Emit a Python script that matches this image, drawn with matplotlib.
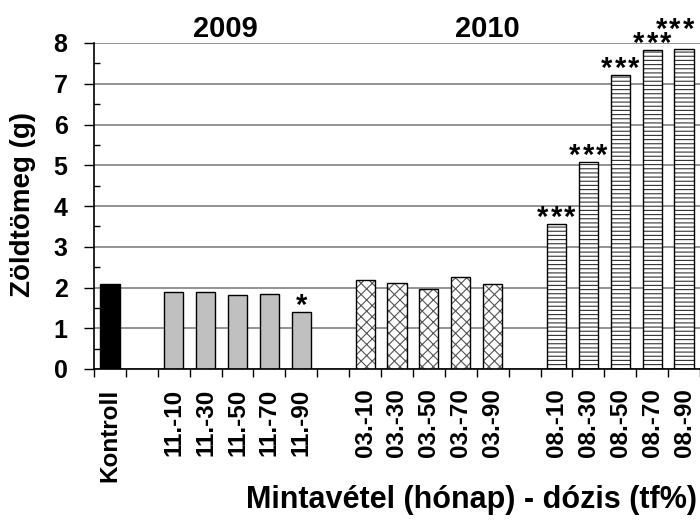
import numpy as np
import matplotlib
matplotlib.use("Agg")
from matplotlib import pyplot as plt

plt.rcParams['font.family'] = ['Liberation Sans', 'DejaVu Sans']
plt.rcParams['font.weight'] = 'bold'
plt.rcParams['hatch.linewidth'] = 0.8

# data
control_label = ['Kontroll']
control_value = [2.08]
labels_2009 = ['11.-10', '11.-30', '11.-50', '11.-70', '11.-90']
values_2009 = [1.90, 1.90, 1.81, 1.85, 1.39]
labels_03 = ['03.-10', '03.-30', '03.-50', '03.-70', '03.-90']
values_03 = [2.19, 2.10, 1.96, 2.25, 2.09]
labels_08 = ['08.-10', '08.-30', '08.-50', '08.-70', '08.-90']
values_08 = [3.55, 5.07, 7.21, 7.82, 7.85]
stars_2009 = [0, 0, 0, 0, 1]
stars_08 = [3, 3, 3, 3, 3]

# slot positions: one empty slot between groups
pos_ctrl = np.array([0])
pos_2009 = np.arange(2, 7)
pos_03 = np.arange(8, 13)
pos_08 = np.arange(14, 19)
w = 0.6

fig = plt.figure(figsize=(7, 5.2), dpi=100)
ax = fig.add_axes([94/700, 1-369/520, 606/700, 326/520])

ax.set_axisbelow(True)
ax.yaxis.grid(True, color='#808080', linewidth=1.2)

ax.bar(pos_ctrl, control_value, w, color='black', edgecolor='black', linewidth=1)
ax.bar(pos_2009, values_2009, w, color='#c0c0c0', edgecolor='black', linewidth=1)
# hatched bars: draw hatch in grey, then black outline
ax.bar(pos_03, values_03, w, color='white', edgecolor='#555555', hatch='xxx', linewidth=0)
ax.bar(pos_03, values_03, w, fill=False, edgecolor='black', linewidth=1)
ax.bar(pos_08, values_08, w, color='white', edgecolor='#333333', hatch='----', linewidth=0)
ax.bar(pos_08, values_08, w, fill=False, edgecolor='black', linewidth=1)


def put_stars(x, v, n, dx=0.0, dy=0.0):
    # stars drawn one by one, spaced like the original
    pitch = 9.7
    for k in range(n):
        off = (k - (n - 1) / 2) * pitch
        ax.annotate('*', (x, v), xytext=(off + dx, -5.5 + dy), textcoords='offset points',
                    ha='center', va='bottom', fontsize=21, fontweight='bold',
                    annotation_clip=False)


for x, v, n in zip(pos_2009, values_2009, stars_2009):
    put_stars(x, v, n)
for i, (x, v, n) in enumerate(zip(pos_08, values_08, stars_08)):
    if i == len(pos_08) - 1:
        put_stars(x, v, n, dx=-6.5, dy=9.4)
    else:
        put_stars(x, v, n)

ax.text(3.62, 8.15, '2009', ha='center', va='baseline', fontsize=21, fontweight='bold')
ax.text(11.82, 8.15, '2010', ha='center', va='baseline', fontsize=21, fontweight='bold')

ax.set_xlim(-0.5, 18.5)
ax.set_ylim(0, 8)
ax.set_yticks(range(0, 9))
ax.set_yticks(np.arange(0.5, 8, 1), minor=True)
ax.tick_params(axis='y', which='major', length=7, width=1, direction='out', labelsize=18, pad=12)
ax.tick_params(axis='y', which='minor', length=4, width=1, direction='in')
for t in ax.get_yticklabels():
    t.set_fontweight('bold')

all_pos = np.concatenate([pos_ctrl, pos_2009, pos_03, pos_08])
all_labels = control_label + labels_2009 + labels_03 + labels_08
ax.set_xticks(np.arange(-0.5, 19, 1))
ax.set_xticklabels([])
ax.set_xticks(all_pos, minor=True)
ax.set_xticklabels(all_labels, minor=True, rotation=90, fontsize=17.5, fontweight='bold')
ax.tick_params(axis='x', which='major', length=6, width=1, direction='out')
ax.tick_params(axis='x', which='minor', length=0, pad=14)

ax.spines['top'].set_visible(False)
ax.spines['right'].set_visible(False)
ax.spines['left'].set_linewidth(1.2)
ax.spines['bottom'].set_linewidth(1.2)

fig.text(23.5/700, 1-205/520, 'Zöldtömeg (g)', rotation=90, ha='center', va='center',
         fontsize=20, fontweight='bold')
fig.text(697/700, 1-500/520, 'Mintavétel (hónap) - dózis (tf%)', ha='right', va='center',
         fontsize=22, fontweight='bold')

fig.savefig('out.png', dpi=100)
